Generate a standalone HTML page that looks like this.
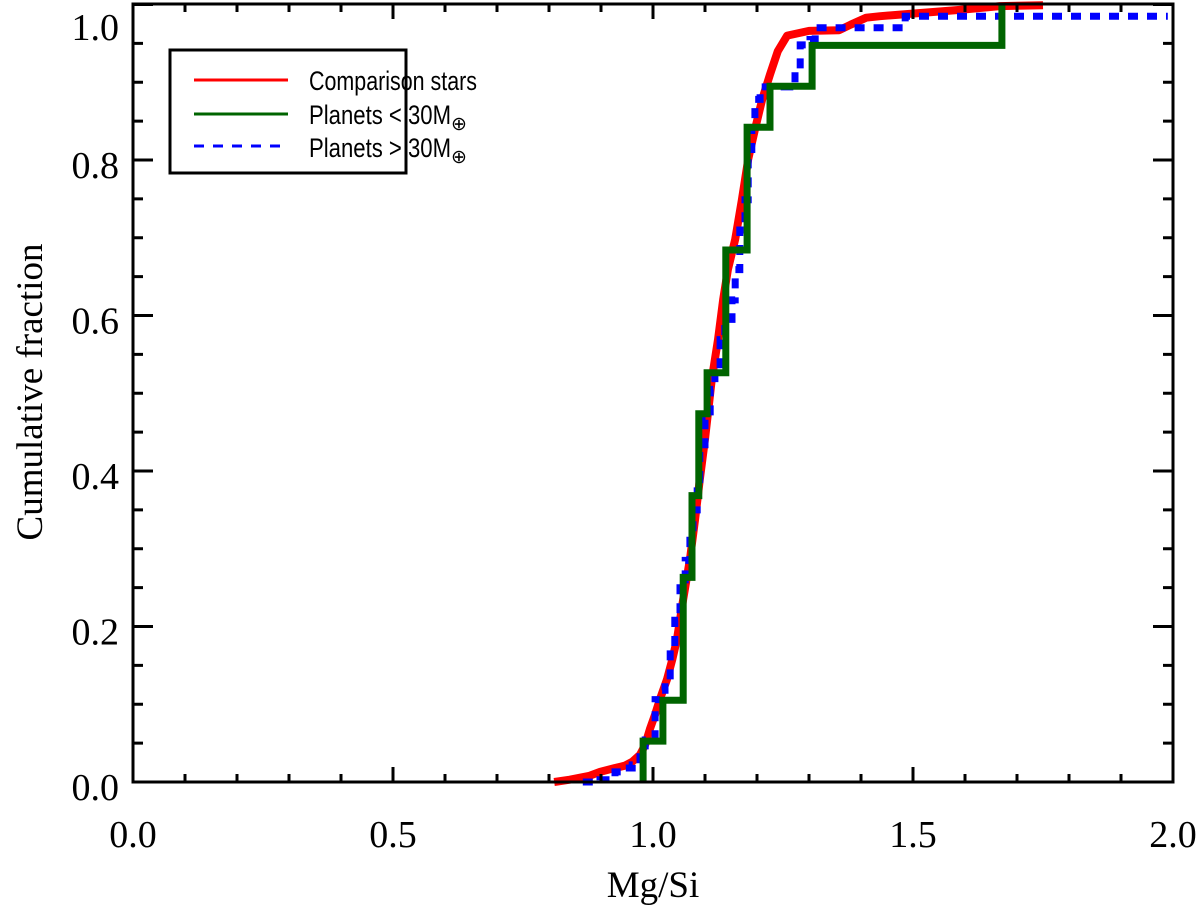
<!DOCTYPE html>
<html><head><meta charset="utf-8"><style>
html,body{margin:0;padding:0;background:#fff}
svg{display:block}
</style></head><body>
<svg id="chart" width="1200" height="915" xmlns="http://www.w3.org/2000/svg">
<g id="marks"></g>
<g id="axes"></g>
<g>
  <rect x="170" y="50" width="236" height="123" fill="#fff" stroke="#000" stroke-width="3"/>
  <line x1="194" y1="80" x2="288" y2="80" stroke="#ff0000" stroke-width="3"/>
  <text x="309" y="90" font-family="Liberation Sans, sans-serif" font-size="27" textLength="168" lengthAdjust="spacingAndGlyphs">Comparison stars</text>
  <line x1="194" y1="114" x2="288" y2="114" stroke="#006400" stroke-width="3"/>
  <text x="309" y="124" font-family="Liberation Sans, sans-serif" font-size="27"><tspan textLength="142" lengthAdjust="spacingAndGlyphs">Planets &lt; 30M</tspan><tspan font-size="19" dy="6">⊕</tspan></text>
  <line x1="194" y1="146" x2="288" y2="146" stroke="#0000ff" stroke-width="3" stroke-dasharray="10,9"/>
  <text x="309" y="157" font-family="Liberation Sans, sans-serif" font-size="27"><tspan textLength="142" lengthAdjust="spacingAndGlyphs">Planets &gt; 30M</tspan><tspan font-size="19" dy="6">⊕</tspan></text>
</g>
<text x="653" y="897" text-anchor="middle" font-family="Liberation Serif, serif" font-size="37">Mg/Si</text>
<text transform="translate(42,392) rotate(-90)" text-anchor="middle" font-family="Liberation Serif, serif" font-size="37">Cumulative fraction</text>
</svg>
<script>
const xTicks = [0.0, 0.5, 1.0, 1.5, 2.0];
const xTickLabels = ["0.0", "0.5", "1.0", "1.5", "2.0"];
const yTicks = [0.0, 0.2, 0.4, 0.6, 0.8, 1.0];
const yTickLabels = ["0.0", "0.2", "0.4", "0.6", "0.8", "1.0"];
// Planets < 30 M_earth: step positions and cumulative counts (/19)
const greenX = [0.981, 1.019, 1.058, 1.075, 1.088, 1.104, 1.140, 1.181, 1.225, 1.306, 1.671];
const greenCount = [1, 2, 5, 7, 9, 10, 13, 16, 17, 18, 19];
const greenTotal = 19;
// Comparison stars CDF (approx)
const redX = [0.810,0.840,0.878,0.898,0.927,0.946,0.960,0.975,0.985,0.994,1.004,1.013,1.027,1.037,1.046,1.058,1.071,1.081,1.090,1.100,1.113,1.125,1.135,1.144,1.158,1.171,1.183,1.196,1.210,1.225,1.240,1.258,1.300,1.358,1.380,1.410,1.437,1.475,1.590,1.667,1.750];
const redY = [0.000,0.003,0.008,0.013,0.018,0.021,0.026,0.035,0.048,0.068,0.087,0.106,0.132,0.157,0.183,0.235,0.286,0.338,0.389,0.441,0.518,0.569,0.621,0.659,0.698,0.749,0.801,0.839,0.878,0.910,0.940,0.960,0.966,0.967,0.974,0.983,0.985,0.987,0.993,0.998,0.999];
// Planets > 30 M_earth CDF (approx)
const blueX = [0.865,0.898,0.927,0.946,0.960,0.975,0.985,1.004,1.013,1.023,1.033,1.042,1.052,1.062,1.071,1.077,1.085,1.090,1.100,1.110,1.119,1.129,1.138,1.152,1.158,1.167,1.177,1.183,1.190,1.196,1.206,1.263,1.273,1.283,1.302,1.312,1.475,1.485,1.990];
const blueY = [0.000,0.003,0.013,0.018,0.022,0.041,0.054,0.106,0.118,0.131,0.170,0.208,0.260,0.285,0.311,0.350,0.389,0.427,0.466,0.505,0.531,0.569,0.595,0.620,0.659,0.710,0.749,0.801,0.852,0.878,0.894,0.897,0.915,0.948,0.955,0.970,0.970,0.985,0.985];

const NS = "http://www.w3.org/2000/svg";
const X0 = 133, X1 = 1173, Y0 = 782, Y1 = 4.5;
const sx = v => X0 + (v - 0) / (2 - 0) * (X1 - X0);
const sy = v => Y0 + (v - 0) / (1 - 0) * (Y1 - Y0);
const marks = document.getElementById('marks');
const axes = document.getElementById('axes');
function mk(tag, attrs, parent) {
  const e = document.createElementNS(NS, tag);
  for (const k in attrs) e.setAttribute(k, attrs[k]);
  parent.appendChild(e);
  return e;
}
// red
let pr = redX.map((x, i) => sx(x).toFixed(1) + ',' + sy(redY[i]).toFixed(1)).join(' ');
const red = mk('polyline', {points: pr, fill: 'none', stroke: '#ff0000', 'stroke-width': 8, 'stroke-linejoin': 'round'}, marks);


// blue (step)
let pb = [];
for (let i = 0; i < blueX.length; i++) {
  if (i > 0) pb.push(sx(blueX[i]).toFixed(1) + ',' + sy(blueY[i - 1]).toFixed(1));
  pb.push(sx(blueX[i]).toFixed(1) + ',' + sy(blueY[i]).toFixed(1));
}
const blue = mk('polyline', {points: pb.join(' '), fill: 'none', stroke: '#0000ff', 'stroke-width': 7, 'stroke-dasharray': '10,9'}, marks);


// green (step)
let pg = [sx(greenX[0]).toFixed(1) + ',' + sy(0).toFixed(1)];
for (let i = 0; i < greenX.length; i++) {
  const prev = i === 0 ? 0 : greenCount[i - 1] / greenTotal;
  pg.push(sx(greenX[i]).toFixed(1) + ',' + sy(prev).toFixed(1));
  pg.push(sx(greenX[i]).toFixed(1) + ',' + sy(greenCount[i] / greenTotal).toFixed(1));
}
const green = mk('polyline', {points: pg.join(' '), fill: 'none', stroke: '#006400', 'stroke-width': 7, 'stroke-linejoin': 'miter'}, marks);


// axes frame
const frame = mk('rect', {x: X0, y: 4, width: X1 - X0, height: Y0 - 4, fill: 'none', stroke: '#000', 'stroke-width': 3}, axes);


// x ticks
for (let v = 0; v <= 20; v++) {
  const val = v / 10, major = v % 5 === 0, L = major ? 15 : 8, x = sx(val);
  mk('line', {x1: x, y1: Y0, x2: x, y2: Y0 - L, stroke: '#000', 'stroke-width': 3}, axes);
  mk('line', {x1: x, y1: 4, x2: x, y2: 4 + L, stroke: '#000', 'stroke-width': 3}, axes);
}
xTicks.forEach((v, i) => {
  const t = mk('text', {x: sx(v), y: 847, 'text-anchor': 'middle', 'font-family': 'Liberation Serif, serif', 'font-size': 38}, axes);
  t.textContent = xTickLabels[i];
  
  
});
// y ticks
for (let v = 0; v <= 20; v++) {
  const val = v / 20, major = v % 4 === 0, L = major ? 20 : 10, y = sy(val);
  mk('line', {x1: X0, y1: y, x2: X0 + L, y2: y, stroke: '#000', 'stroke-width': 3}, axes);
  mk('line', {x1: X1, y1: y, x2: X1 - L, y2: y, stroke: '#000', 'stroke-width': 3}, axes);
}
yTicks.forEach((v, i) => {
  const by = Math.max(sy(v) + 18, 40);
  const t = mk('text', {x: 119, y: by, 'text-anchor': 'end', 'font-family': 'Liberation Serif, serif', 'font-size': 38}, axes);
  t.textContent = yTickLabels[i];
  
  
});
</script>
</body></html>
